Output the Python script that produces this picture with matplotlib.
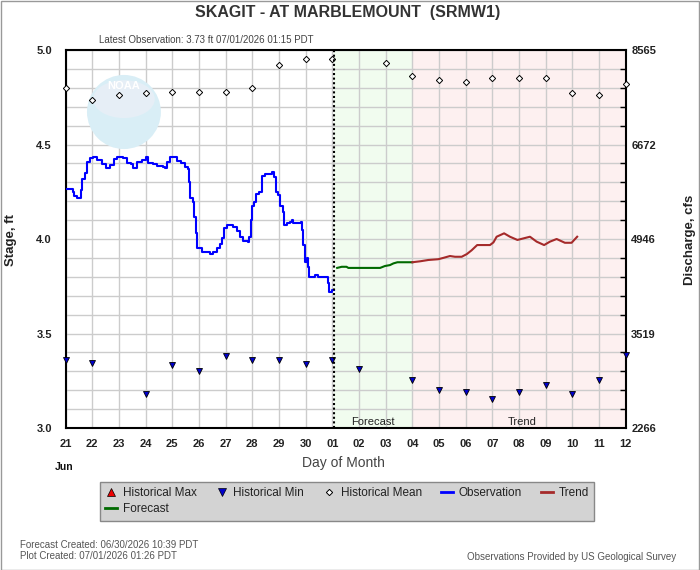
import numpy as np
import matplotlib
matplotlib.use('Agg')
import matplotlib.pyplot as plt
from matplotlib import font_manager
from matplotlib.patches import Ellipse, Rectangle
from matplotlib.lines import Line2D

names = {f.name for f in font_manager.fontManager.ttflist}
NARROW = 'Liberation Sans Narrow' if 'Liberation Sans Narrow' in names else 'Liberation Sans'
plt.rcParams['font.family'] = ['Liberation Sans', 'DejaVu Sans']

# ---------------- data ----------------
x_labels = ['21', '22', '23', '24', '25', '26', '27', '28', '29', '30',
            '01', '02', '03', '04', '05', '06', '07', '08', '09', '10', '11', '12']
discharge_labels = ['2266', '3519', '4946', '6672', '8565']
stage_ticks = [3.0, 3.5, 4.0, 4.5, 5.0]

hist_days = list(range(22))
hist_mean = [4.80, 4.735, 4.763, 4.773, 4.78, 4.78, 4.78, 4.80, 4.92, 4.95, 4.95,
             np.nan, 4.93, 4.862, 4.84, 4.83, 4.85, 4.85, 4.85, 4.77, 4.76, 4.82]
hist_min = [3.358, 3.345, np.nan, 3.18, 3.335, 3.30, 3.383, 3.361, 3.358, 3.337, 3.358,
            3.314, np.nan, 3.256, 3.203, 3.192, 3.155, 3.192, 3.226, 3.18, 3.256, 3.385]

obs_day = [0.00, 0.26, 0.31, 0.41, 0.50, 0.56, 0.62, 0.72, 0.79, 0.91, 1.04, 1.16, 1.35,
           1.51, 1.66, 1.75, 1.81, 1.91, 2.16, 2.29, 2.44, 2.54, 2.69, 2.85, 3.00, 3.10,
           3.29, 3.44, 3.66, 3.72, 3.81, 3.91, 4.04, 4.16, 4.31, 4.47, 4.57, 4.64, 4.66,
           4.76, 4.82, 4.89, 4.94, 5.10, 5.29, 5.41, 5.54, 5.66, 5.79, 5.85, 5.94, 6.04,
           6.26, 6.41, 6.54, 6.66, 6.85, 6.88, 6.94, 6.97, 7.06, 7.14, 7.25, 7.32, 7.37,
           7.47, 7.66, 7.75, 7.81, 7.89, 7.97, 8.04, 8.14, 8.19, 8.29, 8.41, 8.47, 8.54,
           8.79, 8.81, 8.85, 8.91, 8.97, 9.04, 9.10, 9.14, 9.28, 9.35, 9.47, 9.79, 9.82,
           9.89, 9.97, 10.05]
obs_stage = [4.265, 4.25, 4.23, 4.215, 4.215, 4.26, 4.32, 4.35, 4.41, 4.427, 4.432, 4.418,
             4.397, 4.374, 4.39, 4.39, 4.423, 4.432, 4.427, 4.40, 4.397, 4.374, 4.41, 4.42,
             4.432, 4.404, 4.397, 4.386, 4.383, 4.374, 4.41, 4.432, 4.432, 4.414, 4.404,
             4.38, 4.369, 4.303, 4.215, 4.197, 4.118, 4.03, 3.951, 3.933, 3.933, 3.921,
             3.933, 3.951, 3.974, 4.003, 4.057, 4.074, 4.065, 4.044, 4.012, 3.991, 3.986,
             4.01, 4.10, 4.175, 4.197, 4.24, 4.25, 4.25, 4.333, 4.342, 4.344, 4.353, 4.33,
             4.25, 4.233, 4.175, 4.145, 4.074, 4.083, 4.092, 4.10, 4.083, 4.083, 4.09,
             4.048, 3.968, 3.88, 3.898, 3.853, 3.80, 3.80, 3.81, 3.80, 3.797, 3.765, 3.72,
             3.73, 3.73]

fcst_day = [10.18, 10.35, 10.53, 10.60, 11.79, 11.97, 12.16, 12.29, 12.44, 13.0]
fcst_stage = [3.847, 3.853, 3.853, 3.847, 3.847, 3.857, 3.862, 3.871, 3.877, 3.877]

trend_day = [13.0, 13.29, 13.6, 13.97, 14.16, 14.41, 14.6, 14.85, 15.04, 15.22, 15.43,
             15.91, 16.04, 16.16, 16.44, 16.66, 16.94, 17.16, 17.41, 17.66, 17.94, 18.16,
             18.41, 18.72, 18.97, 19.18]
trend_stage = [3.877, 3.882, 3.889, 3.893, 3.90, 3.91, 3.906, 3.906, 3.92, 3.94, 3.968,
               3.968, 3.982, 4.012, 4.03, 4.012, 3.995, 4.003, 4.012, 3.986, 3.968, 3.986,
               4.0, 3.98, 3.98, 4.012]

latest_obs_day = 10.05
forecast_end_day = 13.0

# ---------------- figure ----------------
fig = plt.figure(figsize=(7.0, 5.7), dpi=100)
W, H = 700.0, 570.0
ax = fig.add_axes([65.7 / W, 1 - 428 / H, 560 / W, 378 / H])
ax.set_xlim(0, 21)
ax.set_ylim(3.0, 5.0)

# shaded forecast / trend regions
ax.axvspan(latest_obs_day, forecast_end_day, color='#f1fcef', zorder=0, lw=0)
ax.axvspan(forecast_end_day, 21, color='#fdf0f0', zorder=0, lw=0)

# grid
ax.set_xticks(range(22))
ax.set_xticklabels(x_labels)
ax.set_yticks(stage_ticks)
ax.set_yticklabels([f'{v:.1f}' for v in stage_ticks])
ax.set_yticks(np.arange(3.0, 5.001, 0.1), minor=True)
ax.set_axisbelow(True)
ax.grid(True, which='both', color='#cccccc', lw=1.0)
ax.tick_params(axis='both', which='both', length=0)
ax.tick_params(axis='x', pad=8)
ax.tick_params(axis='y', pad=10)
for lab in ax.get_xticklabels() + ax.get_yticklabels():
    lab.set_fontfamily(NARROW)
    lab.set_fontweight('bold')
    lab.set_fontsize(8)
    lab.set_color('#222222')
for s in ax.spines.values():
    s.set_linewidth(1.5)
    s.set_color('black')

# NOAA watermark
ax.add_patch(Ellipse((0.104, 0.836), 0.132, 0.196, transform=ax.transAxes,
                     facecolor='#d9eef6', edgecolor='none', zorder=0.6))
ax.add_patch(Ellipse((0.104, 0.87), 0.11, 0.10, transform=ax.transAxes,
                     facecolor='#e6eef6', edgecolor='none', zorder=0.6))
ax.text(0.104, 0.905, 'NOAA', transform=ax.transAxes, ha='center', va='center',
        fontsize=8, fontweight='bold', color='white', fontfamily=NARROW, zorder=0.7)

# data
ax.plot(obs_day, obs_stage, color='#0000ff', lw=1.5, drawstyle='steps-post', zorder=3)
ax.plot(fcst_day, fcst_stage, color='#006a00', lw=1.5, zorder=3)
ax.plot(trend_day, trend_stage, color='#a52a2a', lw=1.5, zorder=3)
ax.plot(hist_days, hist_mean, ls='none', marker='D', ms=3.2, mfc='white', mec='black',
        mew=0.7, clip_on=False, zorder=4)
ax.plot(hist_days, hist_min, ls='none', marker='v', ms=4.2, mfc='#0000cc', mec='black',
        mew=0.6, clip_on=False, zorder=4)

ax.axvline(latest_obs_day, color='black', lw=1.5, ls=(0, (1, 1.2)), zorder=5)

ax.text((latest_obs_day + forecast_end_day) / 2, 3.005, 'Forecast', ha='center', va='bottom',
        fontsize=8, color='#222222', fontfamily=NARROW)
ax.text(17.1, 3.005, 'Trend', ha='center', va='bottom',
        fontsize=8, color='#222222', fontfamily=NARROW)

# right axis
ax2 = ax.twinx()
ax2.set_ylim(3.0, 5.0)
ax2.set_yticks(stage_ticks)
ax2.set_yticklabels(discharge_labels)
ax2.set_yticks(np.arange(3.0, 5.001, 0.1), minor=True)
ax2.tick_params(axis='y', which='major', length=0, pad=4)
ax2.tick_params(axis='y', which='minor', direction='in', length=4, width=1, color='black')
for lab in ax2.get_yticklabels():
    lab.set_fontfamily(NARROW)
    lab.set_fontweight('bold')
    lab.set_fontsize(8)
    lab.set_color('#222222')
for s in ax2.spines.values():
    s.set_visible(False)

# labels
fig.text(348 / W, 1 - 13 / H, 'SKAGIT - AT MARBLEMOUNT  (SRMW1)', ha='center', va='center',
         fontsize=11.5, fontweight='bold', color='#333333', fontfamily=NARROW)
fig.text(206 / W, 1 - 40 / H, 'Latest Observation: 3.73 ft 07/01/2026 01:15 PDT',
         ha='center', va='center', fontsize=7, color='#444444', fontfamily=NARROW)
fig.text(11 / W, 1 - 240 / H, 'Stage, ft', rotation=90, ha='center', va='center',
         fontsize=9.5, fontweight='bold', color='#222222')
fig.text(690 / W, 1 - 240 / H, 'Discharge, cfs', rotation=90, ha='center', va='center',
         fontsize=9.5, fontweight='bold', color='#222222')
fig.text(343 / W, 1 - 463 / H, 'Day of Month', ha='center', va='center',
         fontsize=10, color='#444444')
fig.text(64 / W, 1 - 467 / H, 'Jun', ha='center', va='center',
         fontsize=7.5, fontweight='bold', color='#111111', fontfamily=NARROW)

# legend
h_max = Line2D([], [], ls='none', marker='^', ms=6, mfc='#ee0000', mec='black', mew=0.5)
h_min = Line2D([], [], ls='none', marker='v', ms=6, mfc='#0000cc', mec='black', mew=0.5)
h_mean = Line2D([], [], ls='none', marker='D', ms=3.2, mfc='white', mec='black', mew=0.7)
h_obs = Line2D([], [], color='#0000ff', lw=2)
h_trend = Line2D([], [], color='#a52a2a', lw=2)
h_fcst = Line2D([], [], color='#006a00', lw=2)
handles = [h_max, h_fcst, h_min, h_mean, h_obs, h_trend]
labels = ['Historical Max', 'Forecast', 'Historical Min', 'Historical Mean',
          'Observation', 'Trend']
leg = fig.legend(handles, labels, loc='upper left', bbox_to_anchor=(100 / W, 1 - 482 / H),
                 borderaxespad=0, ncol=5, fontsize=8.5, frameon=True, fancybox=False,
                 facecolor='#d3d3d3', edgecolor='#888888', framealpha=1,
                 handlelength=1.0, handletextpad=0.5, columnspacing=1.6,
                 labelspacing=0.35, borderpad=0.45)
leg.get_frame().set_linewidth(1.0)
for t in leg.get_texts():
    t.set_color('#222222')

# footer
fig.text(20 / W, 1 - 545 / H, 'Forecast Created: 06/30/2026 10:39 PDT', ha='left',
         va='center', fontsize=7, color='#555555', fontfamily=NARROW)
fig.text(20 / W, 1 - 556 / H, 'Plot Created: 07/01/2026 01:26 PDT', ha='left',
         va='center', fontsize=7, color='#555555', fontfamily=NARROW)
fig.text(676 / W, 1 - 557 / H, 'Observations Provided by US Geological Survey', ha='right',
         va='center', fontsize=7, color='#555555', fontfamily=NARROW)

# outer border
fig.patches.append(Rectangle((0.5 / W, 0.5 / H), 1 - 1.5 / W, 1 - 1.5 / H,
                             transform=fig.transFigure, fill=False, edgecolor='#999999',
                             lw=1.0))

fig.savefig('out.png', dpi=100)
